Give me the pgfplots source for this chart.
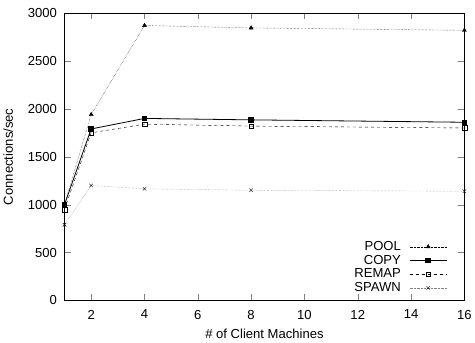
\documentclass[border=0pt]{standalone}
\usepackage{pgfplots}
\pgfplotsset{compat=1.18}
\usepackage{fontspec}
\setmainfont{Liberation Sans}
\begin{document}
\begin{tikzpicture}
\begin{axis}[
  scale only axis,
  width=398pt, height=286pt,
  xmin=1, xmax=16, ymin=0, ymax=3000,
  xtick={2,4,...,16}, ytick={0,500,...,3000},
  tick align=inside,
  major tick length=6pt,
  /pgf/number format/assume math mode=true,
  /pgf/number format/1000 sep={},
  ticklabel style={font=\fontsize{13}{15}\selectfont},
  yticklabel style={xshift=-4pt},
  xticklabel style={yshift=-6pt},
  label style={font=\fontsize{13}{15}\selectfont},
  xlabel={\# of Client Machines},
  ylabel={Connections/sec},
  ylabel style={yshift=8pt},
  xlabel style={yshift=-3pt},
  axis line style={line width=1pt},
  legend style={draw=none, fill=none, at={(0.96,0.02)}, anchor=south east,
    legend plot pos=right, legend cell align=right,
    font=\fontsize{13}{13}\selectfont, row sep=2.5pt, column sep=8pt, inner sep=1pt,
    nodes={inner sep=0.3pt}},
  legend image code/.code={\draw[mark repeat=2,mark phase=2] plot coordinates {(0cm,0cm) (0.65cm,0cm) (1.3cm,0cm)};},
]
\addplot[black, densely dotted, mark=triangle*, mark size=2.3pt, mark options={solid}] coordinates {(1,1000) (2,1940) (4,2870) (8,2845) (16,2820)};
\addlegendentry{POOL}
\addplot[black, line width=0.8pt, mark=square*, mark size=2.3pt, mark options={solid}] coordinates {(1,1000) (2,1790) (4,1900) (8,1885) (16,1860)};
\addlegendentry{COPY}
\addplot[black, dashed, mark=square, mark size=2.3pt, mark options={solid}] coordinates {(1,950) (2,1750) (4,1840) (8,1820) (16,1800)};
\addlegendentry{REMAP}
\addplot[gray, densely dotted, mark=x, mark size=2.5pt, mark options={solid,black}] coordinates {(1,790) (2,1200) (4,1165) (8,1150) (16,1140)};
\addlegendentry{SPAWN}
\end{axis}
\path (current axis.north) ++(0,13pt);
\end{tikzpicture}
\end{document}
